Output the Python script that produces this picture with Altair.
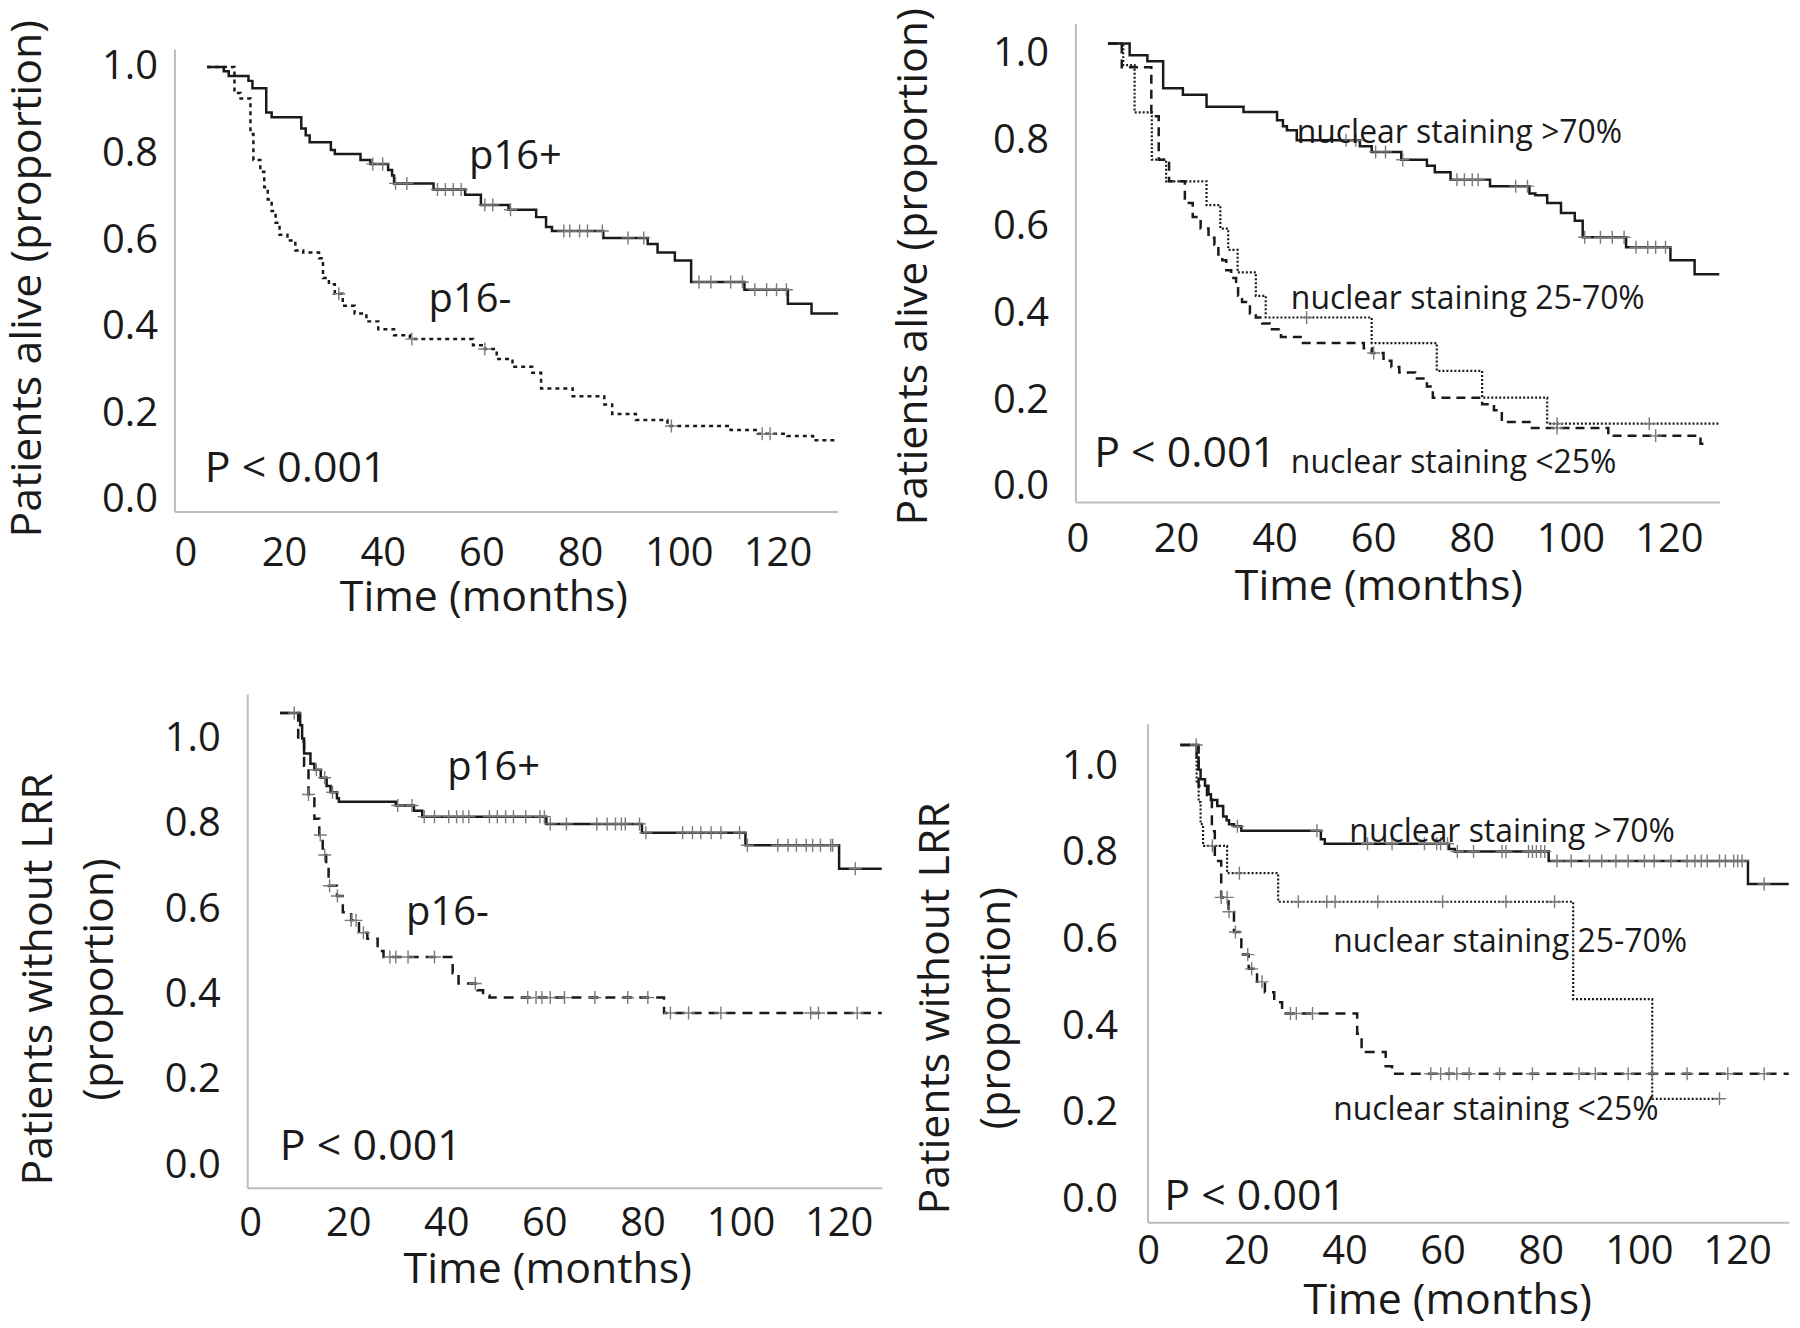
import altair as alt
import pandas as pd

FONT = "Open Sans"
INK = "#1a1a1a"
AXIS_GRAY = "#bdbdbd"
CENS_GRAY = "#7a7a7a"
W, H = 1790, 1318

# ---------------- data ----------------
X_TICKS = [0, 20, 40, 60, 80, 100, 120]
Y_TICKS = [0.0, 0.2, 0.4, 0.6, 0.8, 1.0]

# Panel 1: overall survival, p16
p1_pos_t = [4.4, 7.8, 8.8, 12.8, 13.6, 16.4, 17.5, 23.5, 24.4, 25.2, 29.5, 30.3, 35.5, 37.5, 41.1, 41.9,
            42.3, 50.3, 56.7, 59.9, 65.5, 71.1, 73.1, 74.3, 84.7, 93.7, 95.7, 99.2, 102.5, 113.3, 122.1, 126.9]
p1_pos_s = [1.0, 0.990, 0.979, 0.968, 0.951, 0.895, 0.884, 0.858, 0.842, 0.826, 0.808, 0.799, 0.785, 0.776,
            0.762, 0.749, 0.731, 0.717, 0.705, 0.681, 0.670, 0.653, 0.630, 0.621, 0.605, 0.591, 0.571, 0.553,
            0.503, 0.485, 0.453, 0.430]
p1_pos_end = 132.3
p1_pos_cens = [38.0, 40.0, 42.6, 44.9, 51.1, 52.7, 54.3, 55.9, 60.7, 62.3, 65.9, 76.7, 77.9, 79.9, 81.5, 84.5,
               89.7, 92.9, 104.1, 106.5, 110.5, 112.9, 115.4, 117.8, 119.8, 121.8]
p1_neg_t = [4.4, 9.96, 11.2, 13.2, 13.8, 15.2, 16.0, 16.7, 17.5, 18.3, 19.1, 20.7, 22.3, 23.9, 27.1, 27.9, 29.1,
            30.3, 31.9, 34.3, 36.7, 39.1, 42.3, 45.5, 58.3, 60.7, 63.1, 66.3, 70.3, 72.1, 78.5, 84.9, 86.5,
            91.3, 97.7, 110.5, 116.1, 122.0, 127.2]
p1_neg_s = [1.0, 0.940, 0.927, 0.845, 0.785, 0.758, 0.722, 0.694, 0.667, 0.640, 0.612, 0.599, 0.576, 0.571,
            0.558, 0.512, 0.498, 0.476, 0.448, 0.430, 0.412, 0.394, 0.380, 0.371, 0.357, 0.348, 0.325, 0.307,
            0.293, 0.257, 0.239, 0.220, 0.198, 0.184, 0.170, 0.161, 0.152, 0.147, 0.137]
p1_neg_end = 132.3
p1_neg_cens = [31.1, 45.9, 60.7, 98.5, 116.9, 118.5]
p1_text_label = ["p16+", "p16-", "P < 0.001"]
p1_text_t = [57.5, 49.3, 3.96]
p1_text_s = [0.765, 0.434, 0.040]
p1_text_fs = [40, 40, 43]

# Panel 2: overall survival, nuclear staining
p2_hi_t = [6.2, 10.6, 14.2, 17.4, 21.4, 26.2, 33.7, 40.5, 41.7, 42.5, 44.5, 57.3, 59.7, 65.7, 70.9, 72.5, 75.7,
           83.7, 91.7, 92.9, 95.3, 98.1, 100.9, 102.5, 111.3, 120.3, 125.2]
p2_hi_s = [1.023, 0.996, 0.982, 0.920, 0.905, 0.877, 0.865, 0.846, 0.832, 0.823, 0.800, 0.786, 0.773, 0.755,
           0.741, 0.726, 0.709, 0.694, 0.677, 0.673, 0.655, 0.632, 0.614, 0.576, 0.553, 0.523, 0.491]
p2_hi_end = 130.2
p2_hi_cens = [54.5, 56.5, 60.5, 62.5, 66.0, 77.0, 78.5, 80.1, 81.3, 88.9, 91.3, 102.9, 106.1, 108.5, 110.9,
              113.3, 115.7, 117.3, 119.3]
p2_mid_t = [6.2, 9.3, 11.6, 15.1, 18.0, 26.2, 29.0, 30.6, 32.5, 36.2, 38.2, 59.7, 72.9, 82.1, 95.3]
p2_mid_s = [1.023, 0.973, 0.864, 0.755, 0.705, 0.650, 0.596, 0.547, 0.495, 0.441, 0.391, 0.332, 0.268, 0.206,
            0.146]
p2_mid_end = 130.2
p2_mid_cens = [46.5, 97.3, 116.0]
p2_lo_t = [6.2, 9.0, 15.0, 16.5, 18.6, 21.8, 23.4, 25.0, 26.6, 27.8, 28.6, 29.4, 30.2, 31.2, 32.2, 32.6, 33.4,
           35.0, 36.2, 37.5, 39.0, 41.3, 45.3, 58.1, 59.7, 62.1, 63.7, 65.3, 68.5, 70.9, 72.1, 82.1, 84.5, 86.1,
           91.7, 107.7, 126.4]
p2_lo_s = [1.023, 0.968, 0.855, 0.755, 0.705, 0.655, 0.623, 0.596, 0.575, 0.559, 0.536, 0.523, 0.500, 0.482,
           0.468, 0.441, 0.427, 0.400, 0.391, 0.377, 0.364, 0.346, 0.332, 0.320, 0.309, 0.291, 0.277, 0.264,
           0.250, 0.232, 0.206, 0.191, 0.177, 0.150, 0.136, 0.118, 0.100]
p2_lo_end = 128.0
p2_lo_cens = [60.1, 97.3, 117.3]
p2_text_label = ["nuclear staining >70%", "nuclear staining 25-70%", "nuclear staining <25%", "P < 0.001"]
p2_text_t = [44.5, 43.3, 43.3, 3.4]
p2_text_s = [0.793, 0.411, 0.032, 0.046]
p2_text_fs = [32, 32, 32, 43]

# Panel 3: locoregional recurrence, p16
p3_pos_t = [6.1, 10.2, 10.6, 11.0, 12.3, 13.1, 14.4, 15.6, 16.4, 17.7, 18.1, 29.7, 33.4, 35.1, 60.4, 79.9,
            101.0, 120.1]
p3_pos_s = [1.060, 1.031, 1.000, 0.965, 0.941, 0.927, 0.908, 0.889, 0.874, 0.860, 0.852, 0.843, 0.831, 0.817,
            0.800, 0.779, 0.750, 0.695]
p3_pos_end = 128.8
p3_pos_cens = [9.0, 13.5, 15.2, 16.8, 30.1, 33.0, 35.5, 37.6, 40.5, 42.1, 43.4, 44.6, 48.8, 50.4, 52.1, 53.7,
               56.2, 59.1, 60.0, 61.2, 64.5, 70.7, 72.8, 74.5, 75.7, 76.5, 79.4, 80.7, 88.2, 90.2, 91.9, 94.0,
               96.0, 99.8, 101.4, 107.6, 109.7, 111.4, 113.4, 114.7, 116.3, 118.4, 118.8, 123.4]
p3_neg_t = [6.1, 9.8, 11.0, 11.9, 13.1, 14.1, 14.8, 15.5, 16.0, 17.7, 18.9, 20.6, 22.2, 23.9, 26.0, 27.2, 41.3,
            42.5, 46.3, 47.5, 48.8, 84.4]
p3_neg_s = [1.060, 0.993, 0.936, 0.869, 0.812, 0.774, 0.727, 0.698, 0.655, 0.631, 0.593, 0.574, 0.545, 0.531,
            0.502, 0.488, 0.450, 0.426, 0.410, 0.398, 0.393, 0.357]
p3_neg_end = 128.8
p3_neg_cens = [11.9, 14.3, 15.2, 16.2, 17.8, 20.6, 21.6, 23.1, 28.5, 29.7, 32.2, 37.6, 45.9, 56.6, 58.3, 59.5,
               61.2, 64.1, 70.3, 77.0, 81.1, 85.7, 89.4, 96.0, 114.3, 115.9, 123.8]
p3_text_label = ["p16+", "p16-", "P < 0.001"]
p3_text_t = [40.2, 31.8, 6.06]
p3_text_s = [0.903, 0.564, 0.0135]
p3_text_fs = [40, 40, 43]

# Panel 4: locoregional recurrence, nuclear staining
p4_hi_t = [6.6, 9.9, 10.3, 10.7, 11.6, 12.3, 12.8, 14.1, 15.3, 16.0, 16.5, 17.5, 19.0, 35.2, 36.0, 61.3, 62.5,
           81.6, 122.2]
p4_hi_s = [1.049, 1.020, 0.992, 0.970, 0.955, 0.935, 0.922, 0.908, 0.884, 0.875, 0.866, 0.861, 0.851, 0.831,
           0.821, 0.809, 0.803, 0.781, 0.728]
p4_hi_end = 130.5
p4_hi_cens = [9.8, 18.2, 34.4, 44.7, 49.7, 56.3, 58.8, 59.6, 61.0, 63.0, 66.3, 72.1, 72.9, 77.5, 78.3, 79.1,
              80.0, 80.8, 83.3, 86.2, 89.9, 92.4, 95.3, 97.8, 101.1, 103.1, 106.5, 109.8, 111.4, 112.7, 113.9,
              116.4, 117.6, 119.3, 120.1, 121.0, 125.5]
p4_mid_t = [6.6, 9.9, 10.3, 10.7, 11.2, 16.1, 26.5, 86.6, 102.7]
p4_mid_s = [1.049, 0.960, 0.917, 0.866, 0.816, 0.753, 0.687, 0.462, 0.232]
p4_mid_end = 116.4
p4_mid_cens = [13.1, 18.6, 30.6, 36.4, 38.1, 46.8, 60.0, 72.9, 82.8, 116.4]
p4_lo_t = [6.6, 10.3, 12.0, 13.0, 13.6, 14.9, 16.4, 17.5, 19.0, 20.5, 22.2, 23.8, 25.7, 27.3, 42.6, 43.5, 48.4,
           49.7]
p4_lo_s = [1.049, 0.955, 0.927, 0.850, 0.781, 0.697, 0.664, 0.617, 0.565, 0.532, 0.502, 0.478, 0.455, 0.429,
           0.382, 0.340, 0.307, 0.290]
p4_lo_end = 130.5
p4_lo_cens = [14.9, 16.1, 16.5, 17.8, 20.3, 21.1, 23.2, 29.0, 30.2, 33.5, 57.6, 59.6, 61.3, 62.9, 65.4, 71.6,
              78.3, 87.8, 91.1, 97.8, 102.7, 109.8, 118.1, 125.5]
p4_text_label = ["nuclear staining >70%", "nuclear staining 25-70%", "nuclear staining <25%", "P < 0.001"]
p4_text_t = [41.0, 37.7, 37.7, 3.3]
p4_text_s = [0.825, 0.570, 0.183, -0.025]
p4_text_fs = [32, 32, 32, 43]


# ---------------- helpers ----------------
def step_frame(t, s, t_end):
    tt = list(t) + [t_end]
    ss = list(s) + [s[-1]]
    return pd.DataFrame({"t": tt, "s": ss, "o": list(range(len(tt)))})


def cens_frame(ct, t, s):
    vals = []
    for c in ct:
        v = s[0]
        for ti, si in zip(t, s):
            if ti <= c:
                v = si
        vals.append(v)
    return pd.DataFrame({"t": ct, "s": vals})


PLUS = "M-1,0L1,0M0,-1L0,1"


def build_panel(cfg):
    xs = alt.Scale(domain=cfg["xdom"], range=cfg["xrange"], nice=False, zero=False)
    ys = alt.Scale(domain=cfg["ydom"], range=cfg["yrange"], nice=False, zero=False)
    xax = alt.Axis(orient="bottom", offset=cfg["xaxis_px"] - H, values=X_TICKS, format="d",
                   ticks=False, grid=False, domainColor=AXIS_GRAY, domainWidth=2,
                   labelFont=FONT, labelFontSize=40, labelColor=INK, labelPadding=cfg["xlabpad"],
                   labelBaseline="middle", labelFlush=False, labelOverlap=False,
                   title="Time (months)", titleFont=FONT, titleFontSize=43, titleFontWeight="normal",
                   titleColor=INK, titleX=cfg["xtx"], titleY=cfg["xty"], titleAlign="center",
                   titleBaseline="middle")
    yax = alt.Axis(orient="left", offset=cfg["yoff"], values=Y_TICKS, format=".1f",
                   ticks=False, grid=False, domainColor=AXIS_GRAY, domainWidth=2,
                   labelFont=FONT, labelFontSize=40, labelColor=INK, labelPadding=cfg["ylabpad"],
                   labelBaseline="middle", labelAlign="right", labelFlush=False, labelOverlap=False,
                   title=cfg["ytitle"], titleFont=FONT, titleFontSize=43, titleFontWeight="normal",
                   titleColor=INK, titleX=cfg["ytx"], titleY=cfg["yty"], titleAlign="center",
                   titleBaseline="middle", titleAngle=270, titleLineHeight=61)
    layers = []
    first = True
    for ser in cfg["series"]:
        t, s, t_end, cens, dash, width = ser
        kw = {"interpolate": "step-after", "color": INK, "strokeWidth": width}
        if dash:
            kw["strokeDash"] = dash
        line = alt.Chart(step_frame(t, s, t_end)).mark_line(**kw).encode(
            x=alt.X("t:Q", scale=xs, axis=xax if first else None),
            y=alt.Y("s:Q", scale=ys, axis=yax if first else None),
            order="o:Q",
        )
        first = False
        layers.append(line)
    for ser in cfg["series"]:
        t, s, t_end, cens, dash, width = ser
        pts = alt.Chart(cens_frame(cens, t, s)).mark_point(
            shape=PLUS, size=170, filled=False, stroke=CENS_GRAY, strokeWidth=1.4, opacity=1
        ).encode(
            x=alt.X("t:Q", scale=xs, axis=None),
            y=alt.Y("s:Q", scale=ys, axis=None),
        )
        layers.append(pts)
    lab, tt, ss, fs = cfg["texts"]
    tdf = pd.DataFrame({"label": lab, "t": tt, "s": ss, "fs": fs})
    txt = alt.Chart(tdf).mark_text(align="left", baseline="alphabetic", font=FONT, color=INK).encode(
        x=alt.X("t:Q", scale=xs, axis=None),
        y=alt.Y("s:Q", scale=ys, axis=None),
        text="label:N",
        size=alt.Size("fs:Q", scale=None, legend=None),
    )
    layers.append(txt)
    return layers


SOLID = None
panels = [
    dict(xdom=[-2.2, 132.2], xrange=[167, 832.5], ydom=[-0.0276, 1.0415], yrange=[503, 39],
         xaxis_px=503, yoff=-167, xlabpad=42, ylabpad=17, xtx=477, xty=86,
         ytitle="Patients alive (proportion)", ytx=-147, yty=269,
         series=[(p1_pos_t, p1_pos_s, p1_pos_end, p1_pos_cens, SOLID, 2.5),
                 (p1_neg_t, p1_neg_s, p1_neg_end, p1_neg_cens, [4, 4], 2.5)],
         texts=(p1_text_label, p1_text_t, p1_text_s, p1_text_fs)),
    dict(xdom=[-0.4, 130.2], xrange=[1071, 1717], ydom=[-0.0345, 1.0683], yrange=[493.4, 13.7],
         xaxis_px=493.4, yoff=-1071, xlabpad=38, ylabpad=27, xtx=1375, xty=85,
         ytitle="Patients alive (proportion)", ytx=-162, yty=257,
         series=[(p2_hi_t, p2_hi_s, p2_hi_end, p2_hi_cens, SOLID, 2.5),
                 (p2_mid_t, p2_mid_s, p2_mid_end, p2_mid_cens, [2, 2], 2.2),
                 (p2_lo_t, p2_lo_s, p2_lo_end, p2_lo_cens, [9, 6], 2.5)],
         texts=(p2_text_label, p2_text_t, p2_text_s, p2_text_fs)),
    dict(xdom=[-0.6, 128.8], xrange=[240, 876.7], ydom=[-0.0528, 1.1046], yrange=[1181.6, 686],
         xaxis_px=1181.6, yoff=-240, xlabpad=36, ylabpad=27, xtx=541, xty=82,
         ytitle=["Patients without LRR", "(proportion)"], ytx=-209, yty=972,
         series=[(p3_pos_t, p3_pos_s, p3_pos_end, p3_pos_cens, SOLID, 2.5),
                 (p3_neg_t, p3_neg_s, p3_neg_end, p3_neg_cens, [10, 7], 2.5)],
         texts=(p3_text_label, p3_text_t, p3_text_s, p3_text_fs)),
    dict(xdom=[-0.1, 130.5], xrange=[1143.4, 1786.7], ydom=[-0.0527, 1.098], yrange=[1216, 715.9],
         xaxis_px=1216, yoff=-1143.4, xlabpad=30, ylabpad=30, xtx=1444, xty=79,
         ytitle=["Patients without LRR", "(proportion)"], ytx=-213, yty=1001,
         series=[(p4_hi_t, p4_hi_s, p4_hi_end, p4_hi_cens, SOLID, 2.5),
                 (p4_mid_t, p4_mid_s, p4_mid_end, p4_mid_cens, [2, 2], 2.2),
                 (p4_lo_t, p4_lo_s, p4_lo_end, p4_lo_cens, [10, 7], 2.5)],
         texts=(p4_text_label, p4_text_t, p4_text_s, p4_text_fs)),
]

all_layers = []
for p in panels:
    all_layers.extend(build_panel(p))

chart = alt.layer(*all_layers).resolve_scale(
    x="independent", y="independent"
).resolve_axis(
    x="independent", y="independent"
).properties(
    width=W, height=H, padding=0,
    autosize=alt.AutoSizeParams(type="none"),
    background="white",
).configure_view(stroke=None)

chart.save("out.html", embed_options={"renderer": "svg", "actions": False})
